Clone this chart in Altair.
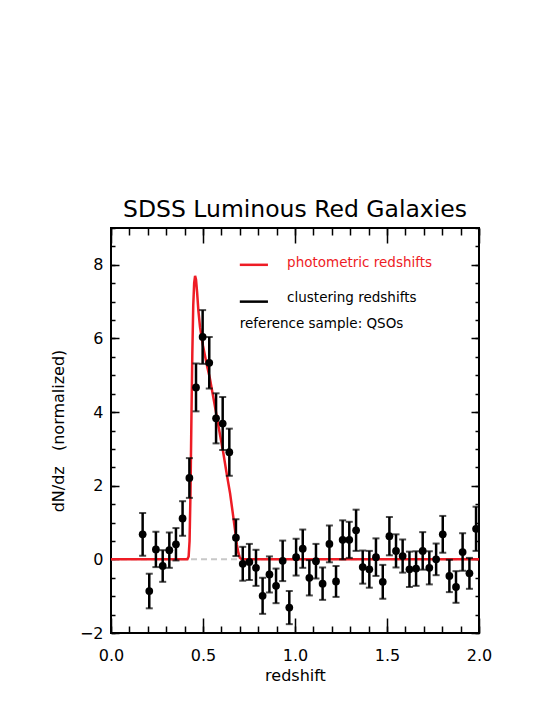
import altair as alt
import pandas as pd

# ---- data ----
z = [0.172, 0.208, 0.244, 0.281, 0.317, 0.353, 0.389, 0.426, 0.462, 0.498,
     0.534, 0.571, 0.607, 0.643, 0.679, 0.716, 0.752, 0.788, 0.824, 0.861,
     0.897, 0.933, 0.969, 1.006, 1.042, 1.078, 1.114, 1.150, 1.187, 1.223,
     1.259, 1.295, 1.332, 1.368, 1.404, 1.440, 1.477, 1.513, 1.549, 1.585,
     1.622, 1.658, 1.694, 1.730, 1.767, 1.803, 1.839, 1.875, 1.911, 1.948,
     1.984]
dndz = [0.68, -0.86, 0.27, -0.18, 0.25, 0.41, 1.11, 2.21, 4.67, 6.04,
        5.34, 3.83, 3.69, 2.91, 0.59, -0.12, -0.07, -0.23, -0.99, -0.41,
        -0.72, -0.04, -1.31, 0.06, 0.29, -0.50, -0.05, -0.66, 0.42, -0.60,
        0.53, 0.53, 0.79, -0.21, -0.27, 0.06, -0.61, 0.63, 0.23, 0.09,
        -0.27, -0.25, 0.23, -0.23, 0.00, 0.68, -0.45, -0.75, 0.20, -0.38,
        0.83]
err = [0.58, 0.47, 0.48, 0.43, 0.48, 0.44, 0.47, 0.54, 0.65, 0.73,
       0.70, 0.68, 0.72, 0.64, 0.50, 0.46, 0.49, 0.49, 0.49, 0.49,
       0.47, 0.55, 0.45, 0.50, 0.52, 0.48, 0.47, 0.44, 0.50, 0.42,
       0.53, 0.49, 0.56, 0.45, 0.50, 0.51, 0.46, 0.52, 0.45, 0.45,
       0.48, 0.47, 0.51, 0.45, 0.43, 0.50, 0.44, 0.43, 0.51, 0.42,
       0.60]

curve_z = [0.0, 0.415, 0.422, 0.427, 0.432, 0.437, 0.442, 0.447, 0.452, 0.457,
           0.462, 0.468, 0.475, 0.484, 0.500, 0.520, 0.538, 0.556, 0.574, 0.592,
           0.610, 0.628, 0.647, 0.662, 0.674, 0.684, 0.692, 0.700, 0.710, 2.0]
curve_dndz = [0.0, 0.0, 0.08, 0.5, 1.8, 3.8, 5.6, 6.9, 7.5, 7.7,
              7.6, 7.25, 6.75, 6.3, 5.8, 5.3, 4.9, 4.4, 3.9, 3.4,
              2.9, 2.35, 1.8, 1.25, 0.8, 0.4, 0.18, 0.05, 0.0, 0.0]

base_z = [0.0, 2.0]
base_v = [0.0, 0.0]

x_major = [0.0, 0.5, 1.0, 1.5, 2.0]
x_minor = [0.0, 0.1, 0.2, 0.3, 0.4, 0.5, 0.6, 0.7, 0.8, 0.9, 1.0,
           1.1, 1.2, 1.3, 1.4, 1.5, 1.6, 1.7, 1.8, 1.9, 2.0]
y_major = [-2, 0, 2, 4, 6, 8]
y_minor = [-2, -1.5, -1, -0.5, 0, 0.5, 1, 1.5, 2, 2.5, 3, 3.5, 4, 4.5,
           5, 5.5, 6, 6.5, 7, 7.5, 8, 8.5, 9]

legend_labels = ["photometric redshifts", "clustering redshifts", "reference sample: QSOs"]

pts = pd.DataFrame({"z": z, "v": dndz,
                    "lo": [v - e for v, e in zip(dndz, err)],
                    "hi": [v + e for v, e in zip(dndz, err)]})
curve = pd.DataFrame({"z": curve_z, "v": curve_dndz})
base = pd.DataFrame({"z": base_z, "v": base_v})

FONT = "DejaVu Sans"
RED = "#ee1c25"
XS = alt.Scale(domain=[0, 2], nice=False, zero=False)
YS = alt.Scale(domain=[-2, 9], nice=False, zero=False)


def tick_axis(orient, values, size):
    return alt.Axis(orient=orient, values=values, tickSize=size, offset=-size,
                    labels=False, domain=False, grid=False, title=None,
                    tickColor="black", tickWidth=1.5)


lab_x = alt.Axis(orient="bottom", values=x_major, format=".1f", ticks=False, tickSize=0,
                 domain=False, grid=False, labelPadding=14, labelFont=FONT,
                 labelFontSize=16, labelColor="black", labelFlush=False,
                 title="redshift",
                 titleFont=FONT, titleFontSize=16, titleFontWeight="normal",
                 titleColor="black", titlePadding=4)
lab_y = alt.Axis(orient="left", values=y_major, format="d", ticks=False, tickSize=0,
                 domain=False, grid=False, labelPadding=8, labelFont=FONT,
                 labelFontSize=16, labelColor="black", labelFlush=False,
                 title="dN/dz\u00a0\u00a0\u00a0(normalized)",
                 titleFont=FONT, titleFontSize=16, titleFontWeight="normal",
                 titleColor="black", titlePadding=13)

baseline = alt.Chart(base).mark_line(color="#c8c8c8", strokeDash=[6, 4], strokeWidth=2).encode(
    x=alt.X("z:Q", scale=XS, axis=None),
    y=alt.Y("v:Q", scale=YS, axis=None),
)

red_line = alt.Chart(curve).mark_line(color=RED, strokeWidth=2.5).encode(
    x=alt.X("z:Q", scale=XS, axis=tick_axis("bottom", x_major, 15)),
    y=alt.Y("v:Q", scale=YS, axis=tick_axis("left", y_major, 8)),
)

bars = alt.Chart(pts).mark_rule(color="black", strokeWidth=2.5).encode(
    x=alt.X("z:Q", scale=XS, axis=tick_axis("bottom", x_minor, 7)),
    y=alt.Y("lo:Q", scale=YS, axis=tick_axis("left", y_minor, 4)),
    y2="hi:Q",
)

caps_lo = alt.Chart(pts).mark_tick(color="black", orient="horizontal", size=7, thickness=2).encode(
    x=alt.X("z:Q", scale=XS, axis=tick_axis("top", x_major, 15)),
    y=alt.Y("lo:Q", scale=YS, axis=tick_axis("right", y_major, 8)),
)

caps_hi = alt.Chart(pts).mark_tick(color="black", orient="horizontal", size=7, thickness=2).encode(
    x=alt.X("z:Q", scale=XS, axis=tick_axis("top", x_minor, 7)),
    y=alt.Y("hi:Q", scale=YS, axis=tick_axis("right", y_minor, 4)),
)

dots = alt.Chart(pts).mark_circle(color="black", size=60, opacity=1).encode(
    x=alt.X("z:Q", scale=XS, axis=lab_x),
    y=alt.Y("v:Q", scale=YS, axis=lab_y),
)

leg = pd.DataFrame({"x": [0.70, 0.70], "x2": [0.853, 0.853], "y": [8.0, 7.0],
                    "c": ["red", "black"]})
leg_lines = alt.Chart(leg).mark_rule(strokeWidth=2.5).encode(
    x=alt.X("x:Q", scale=XS, axis=None),
    x2="x2:Q",
    y=alt.Y("y:Q", scale=YS, axis=None),
    color=alt.Color("c:N", scale=alt.Scale(domain=["red", "black"], range=[RED, "black"]), legend=None),
)

legt = pd.DataFrame({"x": [0.957, 0.957, 0.70], "y": [8.05, 7.1, 6.4],
                     "t": legend_labels, "c": ["red", "black", "black"]})
leg_text = alt.Chart(legt).mark_text(align="left", baseline="middle", font=FONT, fontSize=13.5).encode(
    x=alt.X("x:Q", scale=XS, axis=None),
    y=alt.Y("y:Q", scale=YS, axis=None),
    text="t:N",
    color=alt.Color("c:N", scale=alt.Scale(domain=["red", "black"], range=[RED, "black"]), legend=None),
)

chart = alt.layer(
    baseline, red_line, bars, caps_lo, caps_hi, dots, leg_lines, leg_text
).resolve_axis(x="independent", y="independent").properties(
    width=368,
    height=405,
    padding={"left": 103, "top": 220, "right": 58, "bottom": 64},
    autosize=alt.AutoSizeParams(type="none"),
    title=alt.TitleParams("SDSS Luminous Red Galaxies", font=FONT, fontSize=23.5,
                          fontWeight="normal", color="black", anchor="middle", offset=6),
).configure_view(stroke="black", strokeWidth=2)

chart.save("out.html", embed_options={"renderer": "svg", "actions": False})
